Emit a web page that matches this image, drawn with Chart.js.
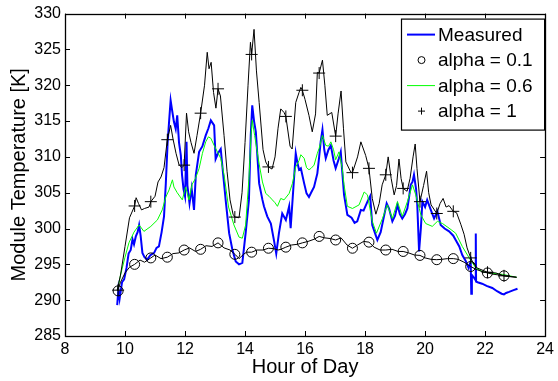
<!DOCTYPE html>
<html>
<head>
<meta charset="utf-8">
<script src="https://cdn.jsdelivr.net/npm/chart.js@4.4.1/dist/chart.umd.min.js"></script>
<style>
  body { margin: 0; background: #fff; }
  #chart { display: block; }
</style>
</head>
<body>
<canvas id="chart" width="558" height="381"></canvas>
<script>
// Measured module temperature (blue)
const measuredHours = [9.74, 9.78, 9.82, 9.9, 9.97, 10.05, 10.12, 10.19, 10.25, 10.3, 10.36, 10.42, 10.47, 10.52, 10.58, 10.65, 10.74, 10.85, 10.97, 11.05, 11.13, 11.22, 11.3, 11.36, 11.42, 11.47, 11.52, 11.57, 11.63, 11.69, 11.74, 11.8, 11.86, 11.9, 11.95, 12.0, 12.05, 12.08, 12.15, 12.22, 12.3, 12.36, 12.47, 12.58, 12.69, 12.78, 12.86, 12.97, 13.02, 13.1, 13.19, 13.24, 13.36, 13.47, 13.58, 13.69, 13.8, 13.91, 14.02, 14.13, 14.19, 14.24, 14.3, 14.36, 14.47, 14.58, 14.63, 14.74, 14.86, 14.97, 15.04, 15.13, 15.24, 15.36, 15.47, 15.52, 15.6, 15.69, 15.74, 15.8, 15.86, 15.97, 16.05, 16.13, 16.2, 16.3, 16.41, 16.47, 16.52, 16.58, 16.64, 16.69, 16.78, 16.86, 16.95, 17.02, 17.13, 17.19, 17.24, 17.3, 17.41, 17.55, 17.65, 17.74, 17.86, 17.95, 18.08, 18.17, 18.24, 18.32, 18.41, 18.52, 18.63, 18.72, 18.8, 18.91, 19.0, 19.08, 19.16, 19.24, 19.33, 19.41, 19.47, 19.52, 19.58, 19.63, 19.7, 19.74, 19.8, 19.86, 19.91, 20.0, 20.07, 20.13, 20.2, 20.3, 20.41, 20.52, 20.65, 20.8, 20.94, 21.02, 21.14, 21.24, 21.35, 21.45, 21.52, 21.54, 21.56, 21.62, 21.68, 21.69, 21.7, 21.75, 21.9, 22.05, 22.24, 22.4, 22.55, 22.63, 22.7, 22.8, 22.95, 23.08];
const measuredTemps = [289.3, 291.5, 290.2, 292.5, 292.9, 294.5, 296.5, 297.0, 298.5, 297.8, 298.9, 299.5, 300.5, 299.0, 296.6, 296.0, 295.65, 296.3, 296.6, 297.3, 297.5, 299.5, 301.7, 306.3, 312.0, 315.0, 317.9, 316.5, 314.9, 313.9, 315.8, 312.0, 310.2, 307.5, 305.5, 304.5, 312.1, 306.0, 303.5, 305.6, 302.6, 307.5, 310.7, 311.5, 313.0, 314.0, 315.1, 314.4, 309.7, 310.5, 311.1, 308.9, 303.75, 299.35, 297.0, 295.4, 295.0, 295.2, 299.35, 304.0, 313.0, 317.2, 315.0, 313.5, 306.3, 304.0, 303.1, 301.7, 300.7, 298.2, 296.5, 299.35, 302.1, 301.2, 303.1, 300.05, 305.0, 310.5, 309.3, 308.2, 308.4, 306.3, 304.9, 304.4, 305.0, 305.8, 307.7, 310.0, 312.1, 313.8, 311.0, 309.8, 311.0, 311.6, 309.5, 308.4, 309.8, 310.7, 307.9, 304.7, 301.9, 301.5, 300.8, 301.0, 302.6, 302.5, 303.75, 304.5, 300.5, 299.5, 298.4, 299.5, 301.7, 303.5, 302.8, 301.0, 301.8, 303.3, 302.0, 301.4, 302.0, 302.8, 304.5, 306.1, 306.5, 307.5, 305.5, 303.3, 296.8, 300.05, 303.75, 303.0, 304.0, 303.3, 302.5, 301.4, 302.4, 300.5, 300.0, 299.6, 299.0, 298.4, 297.5, 296.3, 295.5, 294.5, 295.4, 290.9, 293.5, 293.2, 292.8, 299.3, 292.6, 292.5, 292.3, 292.0, 291.7, 291.25, 290.9, 290.8, 291.0, 291.15, 291.4, 291.6];

// alpha = 0.6 (green)
const alpha06Hours = [9.75, 9.85, 10.0, 10.13, 10.3, 10.47, 10.63, 10.86, 11.08, 11.24, 11.36, 11.47, 11.58, 11.63, 11.74, 11.91, 12.02, 12.13, 12.24, 12.35, 12.47, 12.58, 12.69, 12.78, 12.86, 12.97, 13.08, 13.19, 13.3, 13.45, 13.63, 13.8, 13.91, 14.02, 14.13, 14.2, 14.24, 14.32, 14.47, 14.58, 14.69, 14.8, 14.91, 15.0, 15.08, 15.19, 15.3, 15.47, 15.58, 15.69, 15.8, 15.86, 15.97, 16.05, 16.13, 16.2, 16.3, 16.41, 16.47, 16.58, 16.69, 16.78, 16.86, 16.95, 17.02, 17.13, 17.24, 17.3, 17.41, 17.58, 17.8, 17.97, 18.08, 18.24, 18.38, 18.58, 18.74, 18.91, 19.08, 19.24, 19.41, 19.58, 19.69, 19.86, 20.02, 20.24, 20.41, 20.58, 20.8, 21.02, 21.24, 21.47, 21.69, 21.9, 22.13, 22.58, 23.05];
const alpha06Temps = [291.4, 293.5, 296.0, 298.0, 299.5, 300.5, 299.6, 300.3, 301.2, 302.6, 304.4, 305.4, 306.8, 305.8, 305.0, 304.0, 305.8, 304.0, 306.2, 307.0, 308.4, 310.5, 312.1, 312.8, 312.6, 311.6, 310.7, 309.8, 307.5, 303.0, 300.5, 298.8, 298.65, 300.5, 307.0, 313.0, 315.1, 313.0, 309.0, 306.5, 304.9, 304.5, 304.0, 303.6, 303.1, 304.2, 304.0, 304.9, 306.3, 308.6, 309.5, 310.3, 309.8, 308.5, 308.2, 308.4, 308.85, 310.5, 311.2, 313.0, 311.6, 311.5, 312.1, 311.0, 309.6, 310.7, 308.4, 306.1, 303.1, 302.8, 303.3, 305.1, 304.7, 301.0, 299.35, 301.4, 303.3, 301.4, 303.75, 301.7, 303.75, 306.1, 304.7, 301.9, 300.7, 300.3, 301.0, 300.7, 300.05, 299.35, 297.5, 295.9, 294.5, 294.0, 293.8, 293.6, 293.2];

// alpha = 0.1 (black line under the circles)
const alpha01Hours = [9.75, 9.85, 10.0, 10.15, 10.32, 10.5, 10.65, 10.86, 11.0, 11.2, 11.41, 11.6, 11.8, 11.97, 12.15, 12.35, 12.52, 12.7, 12.9, 13.1, 13.3, 13.5, 13.69, 13.8, 13.95, 14.05, 14.22, 14.4, 14.6, 14.78, 14.95, 15.1, 15.2, 15.36, 15.55, 15.75, 15.91, 16.1, 16.3, 16.47, 16.65, 16.85, 17.02, 17.2, 17.4, 17.58, 17.75, 17.95, 18.13, 18.3, 18.5, 18.69, 18.9, 19.1, 19.27, 19.45, 19.65, 19.83, 20.0, 20.2, 20.39, 20.55, 20.75, 20.94, 21.1, 21.3, 21.52, 21.7, 21.9, 22.08, 22.3, 22.5, 22.63, 22.8, 23.05];
const alpha01Temps = [291.3, 292.5, 293.8, 294.6, 295.0, 295.6, 295.3, 295.9, 296.3, 295.8, 296.0, 296.5, 296.6, 297.0, 297.3, 296.8, 297.1, 297.6, 297.5, 298.0, 297.3, 297.0, 296.3, 295.8, 296.4, 296.7, 296.7, 297.0, 297.0, 297.25, 297.2, 297.0, 297.1, 297.4, 297.7, 297.8, 298.0, 298.2, 298.5, 298.9, 298.7, 298.6, 298.4, 298.7, 297.7, 297.25, 297.7, 298.2, 298.1, 297.4, 297.0, 297.0, 297.1, 296.8, 296.8, 296.6, 296.3, 296.25, 295.9, 295.7, 295.65, 295.7, 295.8, 295.8, 295.7, 295.3, 294.7, 294.3, 294.0, 293.8, 293.6, 293.5, 293.4, 293.3, 293.2];

// alpha = 1 (black line under the plus signs)
const alpha1Hours = [9.74, 9.85, 10.0, 10.15, 10.32, 10.37, 10.45, 10.55, 10.65, 10.8, 10.86, 11.0, 11.1, 11.2, 11.3, 11.41, 11.52, 11.6, 11.7, 11.8, 11.9, 11.97, 12.05, 12.12, 12.2, 12.3, 12.4, 12.52, 12.65, 12.74, 12.8, 12.87, 12.95, 13.03, 13.1, 13.18, 13.3, 13.4, 13.5, 13.6, 13.66, 13.8, 13.9, 14.0, 14.1, 14.18, 14.22, 14.3, 14.38, 14.47, 14.6, 14.69, 14.78, 14.9, 15.0, 15.1, 15.19, 15.3, 15.36, 15.5, 15.57, 15.69, 15.8, 15.86, 15.91, 16.0, 16.13, 16.24, 16.35, 16.41, 16.47, 16.58, 16.66, 16.74, 16.89, 17.02, 17.1, 17.2, 17.28, 17.36, 17.52, 17.58, 17.75, 17.86, 18.02, 18.13, 18.24, 18.36, 18.47, 18.57, 18.69, 18.77, 18.87, 18.97, 19.05, 19.13, 19.2, 19.27, 19.4, 19.5, 19.6, 19.67, 19.73, 19.83, 19.95, 20.05, 20.12, 20.2, 20.39, 20.5, 20.6, 20.7, 20.8, 20.94, 21.05, 21.19, 21.3, 21.4, 21.52, 21.6, 21.73, 22.08, 22.36, 22.63, 23.05];
const alpha1Temps = [291.4, 293.5, 297.5, 301.5, 303.15, 304.3, 303.5, 302.6, 302.8, 303.0, 303.75, 304.5, 306.5, 307.2, 308.5, 312.4, 314.4, 312.5, 310.5, 308.9, 308.5, 308.85, 316.1, 313.5, 312.0, 310.5, 313.0, 316.1, 320.0, 324.6, 322.3, 323.2, 319.0, 316.8, 319.5, 318.5, 313.0, 308.0, 304.0, 302.0, 301.6, 301.5, 305.0, 312.0, 320.0, 326.0, 324.3, 327.8, 322.0, 317.6, 311.0, 309.3, 308.6, 308.3, 310.0, 314.0, 316.7, 316.2, 315.65, 311.5, 311.1, 317.6, 319.0, 319.7, 319.3, 318.0, 315.8, 313.5, 316.0, 321.8, 321.7, 323.5, 320.0, 315.8, 316.2, 312.9, 316.0, 319.2, 314.0, 309.3, 307.9, 307.8, 310.0, 312.1, 310.2, 308.4, 304.2, 302.0, 303.5, 306.1, 307.5, 310.0, 307.0, 304.7, 306.0, 309.7, 307.0, 305.6, 305.2, 307.0, 310.0, 311.8, 308.4, 303.75, 306.0, 308.0, 305.0, 303.3, 302.1, 303.5, 304.2, 303.0, 303.2, 302.4, 302.2, 300.6, 299.2, 297.3, 295.9, 295.2, 294.5, 293.9, 293.8, 293.4, 293.2];

// marker positions (every ~0.56 h)
const markerHours = [9.77, 10.32, 10.86, 11.41, 11.97, 12.52, 13.1, 13.66, 14.22, 14.78, 15.36, 15.91, 16.47, 17.02, 17.58, 18.13, 18.69, 19.27, 19.83, 20.39, 20.94, 21.52, 22.08, 22.63];
const alpha01Markers = [291.3, 295.0, 295.9, 296.0, 297.0, 297.1, 298.0, 296.4, 296.7, 297.25, 297.4, 298.0, 298.9, 298.4, 297.25, 298.1, 297.0, 296.8, 296.25, 295.65, 295.8, 294.7, 293.8, 293.4];
const alpha1Markers = [291.4, 303.15, 303.75, 312.4, 308.85, 316.1, 319.5, 301.6, 324.3, 308.6, 315.65, 319.3, 321.7, 312.9, 307.8, 308.4, 307.5, 305.6, 303.75, 302.1, 302.4, 295.9, 293.9, 293.4];

const xMin = 8, xMax = 24, xStep = 2;
const yMin = 285, yMax = 330, yStep = 5;
const fontFamily = "'Liberation Sans', Arial, sans-serif";

function pts(xs, ys) {
    return xs.map((x, i) => ({ x: x, y: ys[i] }));
}

// box around the axes with inward tick marks on all four sides
const frameTicks = {
    id: 'frameTicks',
    afterDraw(chart) {
        const { ctx, chartArea: a, scales } = chart;
        ctx.save();
        ctx.strokeStyle = '#000';
        ctx.lineWidth = 1;
        ctx.beginPath();
        scales.x.ticks.forEach(t => {
            const px = Math.round(scales.x.getPixelForValue(t.value)) + 0.5;
            ctx.moveTo(px, a.bottom); ctx.lineTo(px, a.bottom - 5);
            ctx.moveTo(px, a.top); ctx.lineTo(px, a.top + 5);
        });
        scales.y.ticks.forEach(t => {
            const py = Math.round(scales.y.getPixelForValue(t.value)) + 0.5;
            ctx.moveTo(a.left, py); ctx.lineTo(a.left + 5, py);
            ctx.moveTo(a.right, py); ctx.lineTo(a.right - 5, py);
        });
        ctx.stroke();
        ctx.lineWidth = 1.3;
        ctx.strokeRect(Math.round(a.left) + 0.5, Math.round(a.top) + 0.5, Math.round(a.right - a.left), Math.round(a.bottom - a.top));
        ctx.restore();
    }
};

// MATLAB style legend box in the upper right corner
const boxLegend = {
    id: 'boxLegend',
    afterDraw(chart) {
        const ctx = chart.ctx;
        const a = chart.chartArea;
        const items = chart.data.datasets.filter(d => d.inLegend).sort((p, q) => p.legendRank - q.legendRank);
        const left = 401, top = a.top + 5, right = a.right - 1, rowH = 25.5;
        const bottom = top + 14 + rowH * items.length - 5;
        ctx.save();
        ctx.fillStyle = '#fff';
        ctx.fillRect(left, top, right - left, bottom - top);
        ctx.strokeStyle = '#000';
        ctx.lineWidth = 1.2;
        ctx.strokeRect(left + 0.5, top + 0.5, right - left, bottom - top);
        ctx.font = '19px ' + fontFamily;
        ctx.textBaseline = 'middle';
        items.forEach((d, i) => {
            const y = top + 16 + i * rowH;
            const cx = 421.5;
            ctx.strokeStyle = d.borderColor;
            if (d.showLine === false) {
                ctx.lineWidth = 1;
                ctx.beginPath();
                if (d.pointStyle === 'circle') {
                    ctx.arc(cx, y, 3.5, 0, Math.PI * 2);
                } else {
                    ctx.moveTo(cx - 3.5, y); ctx.lineTo(cx + 3.5, y);
                    ctx.moveTo(cx, y - 3.5); ctx.lineTo(cx, y + 3.5);
                }
                ctx.stroke();
            } else {
                ctx.lineWidth = d.borderWidth;
                ctx.beginPath();
                ctx.moveTo(407, y); ctx.lineTo(435, y);
                ctx.stroke();
            }
            ctx.fillStyle = '#000';
            ctx.fillText(d.label, 438, y + 1);
        });
        ctx.restore();
    }
};

const ctx = document.getElementById('chart').getContext('2d');
new Chart(ctx, {
    type: 'line',
    data: {
        datasets: [
            {
                label: 'Measured', data: pts(measuredHours, measuredTemps),
                borderColor: '#0000ff', borderWidth: 2, pointRadius: 0,
                inLegend: true, legendRank: 0, order: 6
            },
            {
                label: 'alpha = 0.6', data: pts(alpha06Hours, alpha06Temps),
                borderColor: '#00ff00', borderWidth: 1, pointRadius: 0,
                inLegend: true, legendRank: 2, order: 5
            },
            {
                label: 'alpha 0.1 line', data: pts(alpha01Hours, alpha01Temps),
                borderColor: '#000', borderWidth: 1, pointRadius: 0, order: 4
            },
            {
                label: 'alpha = 0.1', data: pts(markerHours, alpha01Markers),
                showLine: false, borderColor: '#000', backgroundColor: 'rgba(0,0,0,0)',
                pointStyle: 'circle', pointRadius: 5, pointBorderWidth: 1,
                inLegend: true, legendRank: 1, order: 3
            },
            {
                label: 'alpha 1 line', data: pts(alpha1Hours, alpha1Temps),
                borderColor: '#000', borderWidth: 1, pointRadius: 0, order: 2
            },
            {
                label: 'alpha = 1', data: pts(markerHours, alpha1Markers),
                showLine: false, borderColor: '#000', backgroundColor: '#000',
                pointStyle: 'cross', pointRadius: 6, pointBorderWidth: 1,
                inLegend: true, legendRank: 3, order: 1
            }
        ]
    },
    options: {
        responsive: false,
        animation: false,
        devicePixelRatio: 1,
        layout: { padding: { top: 10, right: 12, left: 0, bottom: 0 } },
        elements: { line: { tension: 0 } },
        plugins: {
            legend: { display: false },
            tooltip: { enabled: false }
        },
        scales: {
            x: {
                type: 'linear', min: xMin, max: xMax,
                ticks: { stepSize: xStep, padding: 4, color: '#000', font: { family: fontFamily, size: 16 }, maxRotation: 0 },
                grid: { display: false, drawTicks: false },
                border: { display: false },
                title: { display: true, text: 'Hour of Day', color: '#000', font: { family: fontFamily, size: 20 }, padding: { top: 0, bottom: 2 } },
                afterFit: s => { s.height = 45; }
            },
            y: {
                type: 'linear', min: yMin, max: yMax,
                ticks: { stepSize: yStep, padding: 4, color: '#000', font: { family: fontFamily, size: 16 } },
                grid: { display: false, drawTicks: false },
                border: { display: false },
                title: { display: true, text: 'Module Temperature [K]', color: '#000', font: { family: fontFamily, size: 20 }, padding: { top: 7, bottom: 0 } },
                afterFit: s => { s.width = 65; }
            }
        }
    },
    plugins: [frameTicks, boxLegend]
});
</script>
</body>
</html>
